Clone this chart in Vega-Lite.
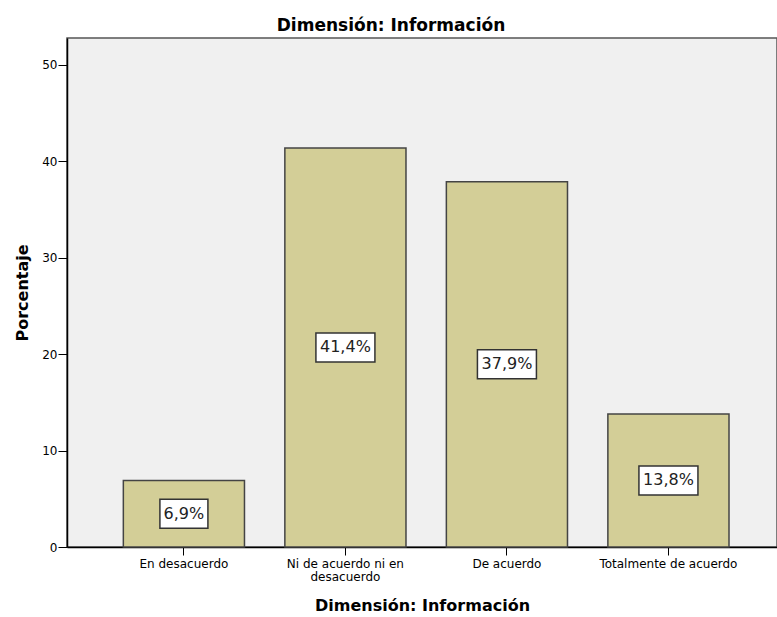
{
  "$schema": "https://vega.github.io/schema/vega-lite/v6.json",
  "width": 710,
  "height": 509,
  "autosize": {"type": "none"},
  "padding": {"left": 67, "top": 38, "right": 0, "bottom": 70},
  "background": "white",
  "config": {
    "font": "DejaVu Sans",
    "view": {"fill": "#F0F0F0", "stroke": "#555555", "strokeWidth": 1.5}
  },
  "title": {
    "text": "Dimensión: Información",
    "fontSize": 17,
    "fontWeight": "bold",
    "font": "DejaVu Sans",
    "color": "#000000",
    "offset": 3,
    "dx": -31
  },
  "data": {
    "values": [
      {"categoria": "En desacuerdo", "porcentaje": 6.9, "etiqueta": "6,9%"},
      {"categoria": "Ni de acuerdo ni en desacuerdo", "porcentaje": 41.4, "etiqueta": "41,4%"},
      {"categoria": "De acuerdo", "porcentaje": 37.9, "etiqueta": "37,9%"},
      {"categoria": "Totalmente de acuerdo", "porcentaje": 13.8, "etiqueta": "13,8%"}
    ]
  },
  "transform": [{"calculate": "datum.porcentaje / 2", "as": "medio"}],
  "encoding": {
    "x": {
      "field": "categoria",
      "type": "nominal",
      "sort": null,
      "scale": {"paddingInner": 0.25, "paddingOuter": 0.323, "align": 0.54},
      "axis": {
        "title": "Dimensión: Información",
        "titleFontSize": 16,
        "titleFontWeight": "bold",
        "titleColor": "#000000",
        "titlePadding": 15,
        "labelAngle": 0,
        "labelFontSize": 12,
        "labelColor": "#000000",
        "labelPadding": 3,
        "labelLineHeight": 13.5,
        "labelExpr": "datum.label == 'Ni de acuerdo ni en desacuerdo' ? ['Ni de acuerdo ni en', 'desacuerdo'] : datum.label",
        "tickSize": 8,
        "tickColor": "#000000",
        "domainColor": "#000000",
        "domainWidth": 1.5
      }
    }
  },
  "layer": [
    {
      "mark": {"type": "bar", "fill": "#D3CE97", "stroke": "#444444", "strokeWidth": 1.5},
      "encoding": {
        "y": {
          "field": "porcentaje",
          "type": "quantitative",
          "scale": {"domain": [0, 52.8], "nice": false},
          "axis": {
            "title": "Porcentaje",
            "titleFontSize": 16,
            "titleFontWeight": "bold",
            "titleColor": "#000000",
            "titlePadding": 11,
            "values": [0, 10, 20, 30, 40, 50],
            "labelFontSize": 12,
            "labelColor": "#000000",
            "labelPadding": 1,
            "tickSize": 9,
            "tickColor": "#000000",
            "domainColor": "#000000",
            "domainWidth": 1.5,
            "grid": false
          }
        }
      }
    },
    {
      "mark": {"type": "tick", "orient": "horizontal", "thickness": 29, "fill": "white", "stroke": "#333333", "strokeWidth": 1.5, "opacity": 1},
      "encoding": {
        "y": {"field": "medio", "type": "quantitative"},
        "size": {"condition": {"test": "length(datum.etiqueta) > 4", "value": 59}, "value": 48}
      }
    },
    {
      "mark": {"type": "text", "fontSize": 16, "color": "#222222", "baseline": "middle"},
      "encoding": {
        "y": {"field": "medio", "type": "quantitative"},
        "text": {"field": "etiqueta"}
      }
    }
  ]
}
